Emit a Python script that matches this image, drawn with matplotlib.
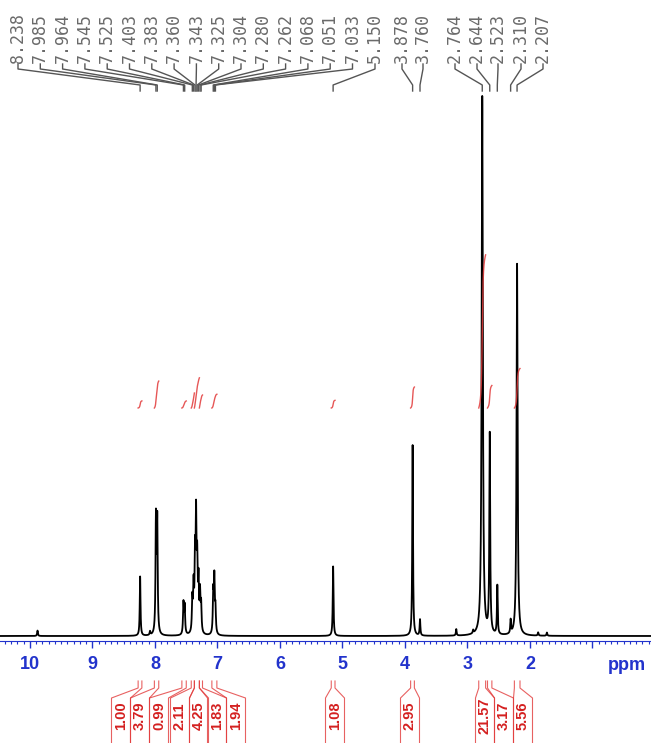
import numpy as np
import matplotlib.pyplot as plt
from matplotlib.ticker import MultipleLocator

# peak list: chemical shift (ppm), relative height (tallest = 100), half width (ppm)
shifts = [9.880, 8.238, 8.080, 7.985, 7.964, 7.545, 7.525, 7.403, 7.383, 7.360, 7.343,
          7.325, 7.304, 7.280, 7.262, 7.068, 7.051, 7.033, 5.150, 3.878, 3.760,
          3.180, 2.910, 2.764, 2.644, 2.523, 2.310, 2.207, 1.870, 1.730]
heights = [1.0, 11.0, 0.7, 21.0, 20.5, 5.8, 5.2, 6.0, 8.0, 13.0, 20.0,
           12.0, 9.0, 7.0, 5.0, 7.5, 10.0, 4.5, 12.9, 35.4, 3.0,
           1.2, 0.6, 100.0, 37.0, 9.1, 2.5, 69.0, 0.6, 0.6]
widths = [0.007, 0.007, 0.007, 0.008, 0.008, 0.008, 0.008, 0.008, 0.008, 0.008, 0.008,
          0.008, 0.008, 0.008, 0.008, 0.008, 0.008, 0.008, 0.007, 0.007, 0.007,
          0.007, 0.007, 0.011, 0.008, 0.007, 0.007, 0.010, 0.007, 0.007]

# labelled peaks (top)
peak_labels = ["8.238", "7.985", "7.964", "7.545", "7.525", "7.403", "7.383", "7.360",
               "7.343", "7.325", "7.304", "7.280", "7.262", "7.068", "7.051", "7.033",
               "5.150", "3.878", "3.760", "2.764", "2.644", "2.523", "2.310", "2.207"]

# integrals (bottom)
int_regions = [(8.27, 8.21), (8.01, 7.94), (7.57, 7.50), (7.42, 7.37), (7.37, 7.29),
               (7.29, 7.24), (7.09, 7.01), (5.18, 5.12), (3.91, 3.85), (2.82, 2.71),
               (2.68, 2.61), (2.25, 2.16)]
int_values = ["1.00", "3.79", "0.99", "2.11", "4.25", "1.83", "1.94", "1.08", "2.95",
              "21.57", "3.17", "5.56"]

tick_pos = [10, 9, 8, 7, 6, 5, 4, 3, 2, 1]
tick_txt = ["10", "9", "8", "7", "6", "5", "4", "3", "2", ""]

# layout helpers (figure pixels -> data)
PX_PER_PPM = 62.5
PX_PER_UNIT = 5.39
def xppm(p):
    return 10 - (p - 30) / PX_PER_PPM
def ydat(p):
    return (636 - p) / PX_PER_UNIT

top_label_px = [18 + 22.3 * i for i in range(16)] + [375, 402, 423, 455, 477, 498, 521, 543]
int_label_px = [121, 140, 159, 180, 199, 217, 236, 335, 410, 485, 504, 523]

BLUE = '#2233cc'
RED = '#e23a3a'
GRAY = '#6a6a6a'

x = np.linspace(xppm(0), xppm(651), 60000)
y = np.zeros_like(x)
for s, h, w in zip(shifts, heights, widths):
    y += h / (1 + ((x - s) / w) ** 2)

fig = plt.figure(figsize=(6.51, 7.43), dpi=100)
ax = fig.add_axes([0, 102 / 743, 1, 641 / 743])
ax.plot(x, y, color='black', lw=1.3)
ax.set_xlim(xppm(0), xppm(651))
ax.set_ylim(ydat(641), ydat(0))

for side in ['top', 'left', 'right']:
    ax.spines[side].set_visible(False)
ax.spines['bottom'].set_color(BLUE)
ax.set_yticks([])
ax.set_xticks(tick_pos)
ax.set_xticklabels(tick_txt)
ax.xaxis.set_minor_locator(MultipleLocator(0.1))
ax.tick_params(axis='x', which='major', direction='out', length=5, width=1,
               color=BLUE, labelcolor=BLUE, labelsize=13, pad=6)
ax.tick_params(axis='x', which='minor', direction='out', length=2.2, width=0.8, color=BLUE)
for lbl in ax.get_xticklabels():
    lbl.set_fontweight('bold')
    lbl.set_family('Liberation Sans')
ax.text(xppm(627), ydat(666), 'ppm', color=BLUE, fontsize=13, fontweight='bold',
        family='Liberation Sans', ha='center', va='center', clip_on=False)

# peak labels with connectors
for lab, lx in zip(peak_labels, top_label_px):
    s = float(lab)
    ax.text(xppm(lx), ydat(63), lab, rotation=90, ha='center', va='bottom',
            family='DejaVu Sans Mono', fontsize=12, color=GRAY, clip_on=False)
    ax.plot([xppm(lx), xppm(lx), s, s], [ydat(64), ydat(69), ydat(85), ydat(91)],
            color='#555555', lw=1, clip_on=False)

# integral curves and labels
for (a, b), val, lx in zip(int_regions, int_values, int_label_px):
    m = (x <= a) & (x >= b)
    seg = np.cumsum(y[m])
    seg = seg / seg[-1] * float(val) * 7.1 / PX_PER_UNIT
    ax.plot(x[m], ydat(408) + seg, color=RED, lw=1, alpha=0.85, clip_on=False)

    xl, xr = xppm(lx - 9.5), xppm(lx + 9.5)
    ax.plot([a, a, xl, xl], [ydat(681), ydat(688), ydat(698), ydat(745)],
            color=RED, lw=0.8, alpha=0.8, clip_on=False)
    ax.plot([b, b, xr, xr], [ydat(681), ydat(688), ydat(698), ydat(745)],
            color=RED, lw=0.8, alpha=0.8, clip_on=False)
    ax.text(xppm(lx), ydat(716), val, rotation=90, ha='center', va='center',
            color='#d42020', fontsize=10.5, fontweight='bold', family='Liberation Sans',
            clip_on=False)

fig.savefig('out.png', dpi=100)
